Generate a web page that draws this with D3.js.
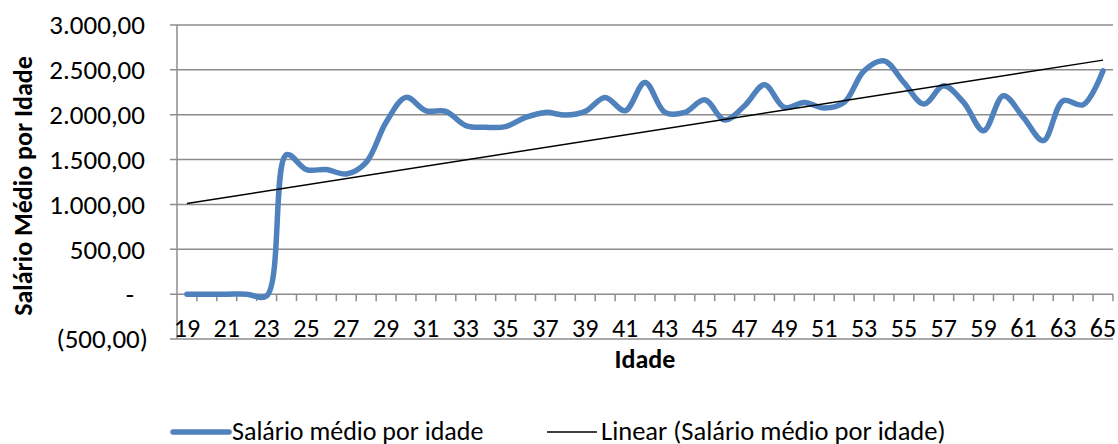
<html>
<head>
  <script src="https://d3js.org/d3.v7.min.js"></script>
  <style>
    body{ margin:0; background:#fff; }
    text{ font-family: Carlito, Lato, "Open Sans", sans-serif; fill:#000; }
  </style>
</head>
<body>
<script>
// ages on the category axis
var ages = d3.range(19, 66).map(String);
// average salary per age
var salarios = [
  0, 0, 0, 0, -20, 1555, 1389, 1389, 1340, 1470, 1915, 2193, 2044, 2037, 1878,
  1859, 1867, 1970, 2026, 1996, 2037, 2193, 2044, 2359, 2026, 2026,
  2167, 1941, 2100, 2333, 2081, 2137, 2074, 2137, 2489, 2600, 2359,
  2119, 2322, 2137, 1822, 2211, 1970, 1711, 2156, 2111, 2489
];
var yTicks = [-500, 0, 500, 1000, 1500, 2000, 2500, 3000];
var yTickLabels = ["(500,00)", "-", "500,00", "1.000,00", "1.500,00", "2.000,00", "2.500,00", "3.000,00"];
var serieNome = "Salário médio por idade";
var trendNome = "Linear (Salário médio por idade)";

var width = 1118, height = 444;
var plotLeft = 177, plotRight = 1113, plotTop = 25, plotBottom = 339;

var svg = d3.select("body").append("svg")
  .attr("width", width)
  .attr("height", height);

var x = d3.scaleBand().domain(ages).range([plotLeft, plotRight]);
var y = d3.scaleLinear().domain([-500, 3000]).range([plotBottom, plotTop]);

// gridlines
svg.append("g").selectAll("line")
  .data(yTicks)
  .enter().append("line")
  .attr("x1", plotLeft - 7).attr("x2", plotRight)
  .attr("y1", function(d){ return y(d); })
  .attr("y2", function(d){ return y(d); })
  .attr("stroke", "#8c8c8c")
  .attr("stroke-width", 1.5);

// vertical axis line
svg.append("line")
  .attr("x1", plotLeft).attr("x2", plotLeft)
  .attr("y1", plotTop).attr("y2", plotBottom)
  .attr("stroke", "#8c8c8c").attr("stroke-width", 1.5);

// category ticks on the zero line
svg.append("g").selectAll("line")
  .data(ages)
  .enter().append("line")
  .attr("x1", function(d){ return x(d) + x.step(); })
  .attr("x2", function(d){ return x(d) + x.step(); })
  .attr("y1", y(0)).attr("y2", y(0) + 7)
  .attr("stroke", "#8c8c8c").attr("stroke-width", 1.5);

// y labels
svg.append("g").selectAll("text")
  .data(yTicks)
  .enter().append("text")
  .attr("x", function(d){ return d === 0 ? 134 : (d < 0 ? 148 : 145); })
  .attr("y", function(d){ return y(d); })
  .attr("dy", "0.35em")
  .attr("text-anchor", "end")
  .style("font-size", "27px")
  .text(function(d, i){ return yTickLabels[i]; });

// x labels (every other age)
svg.append("g").selectAll("text")
  .data(ages.filter(function(d, i){ return i % 2 === 0; }))
  .enter().append("text")
  .attr("x", function(d){ return x(d) + x.bandwidth() / 2; })
  .attr("y", 337)
  .attr("text-anchor", "middle")
  .style("font-size", "26px")
  .text(function(d){ return d; });

// axis titles
svg.append("text")
  .attr("transform", "translate(32,186) rotate(-90)")
  .attr("text-anchor", "middle")
  .style("font-size", "26px")
  .style("font-weight", "bold")
  .text("Salário Médio por Idade");

svg.append("text")
  .attr("x", 645).attr("y", 368)
  .attr("text-anchor", "middle")
  .style("font-size", "26px")
  .style("font-weight", "bold")
  .text("Idade");

// series line (smoothed)
var line = d3.line()
  .x(function(d, i){ return x(ages[i]) + x.bandwidth() / 2; })
  .y(function(d){ return y(d); })
  .curve(d3.curveCatmullRom.alpha(0.5));

svg.append("path")
  .datum(salarios)
  .attr("d", line)
  .attr("fill", "none")
  .attr("stroke", "#4f81bd")
  .attr("stroke-width", 5.5)
  .attr("stroke-linecap", "round");

// linear trendline (least squares)
var n = salarios.length;
var xs = d3.range(n);
var mx = d3.mean(xs), my = d3.mean(salarios);
var slope = d3.sum(xs, function(i){ return (i - mx) * (salarios[i] - my); }) /
            d3.sum(xs, function(i){ return (i - mx) * (i - mx); });
var inter = my - slope * mx;

svg.append("line")
  .attr("x1", x(ages[0]) + x.bandwidth() / 2)
  .attr("x2", x(ages[n - 1]) + x.bandwidth() / 2)
  .attr("y1", y(inter))
  .attr("y2", y(inter + slope * (n - 1)))
  .attr("stroke", "#000")
  .attr("stroke-width", 1.5);

// legend
var lg = svg.append("g");
lg.append("line")
  .attr("x1", 173).attr("x2", 229).attr("y1", 432).attr("y2", 432)
  .attr("stroke", "#4f81bd").attr("stroke-width", 5.5)
  .attr("stroke-linecap", "round");
lg.append("text")
  .attr("x", 232).attr("y", 431).attr("dy", "0.35em")
  .style("font-size", "26px")
  .text(serieNome);
lg.append("line")
  .attr("x1", 547).attr("x2", 597).attr("y1", 432).attr("y2", 432)
  .attr("stroke", "#000").attr("stroke-width", 1.5);
lg.append("text")
  .attr("x", 601).attr("y", 431).attr("dy", "0.35em")
  .style("font-size", "26.5px")
  .text(trendNome);
</script>
</body>
</html>
